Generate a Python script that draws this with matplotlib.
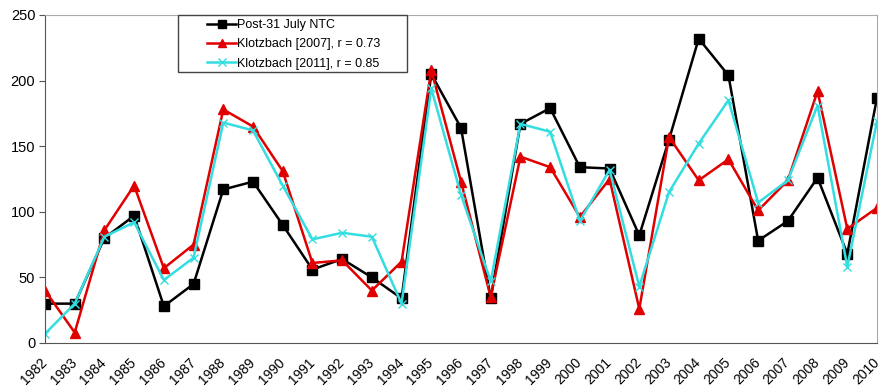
import matplotlib.pyplot as plt
from matplotlib.patches import Rectangle
from matplotlib.transforms import ScaledTranslation

## Data.
years = list(range(1982, 2011))
ntc = [30, 30, 80, 97, 28, 45, 117, 123, 90, 56, 64, 50, 34, 205, 164, 34, 167, 179, 134,
       133, 82, 155, 232, 204, 78, 93, 126, 68, 187]
k2007 = [40, 8, 86, 120, 57, 75, 178, 165, 131, 61, 63, 40, 62, 208, 123, 35, 142, 134, 96,
         125, 26, 157, 124, 140, 101, 124, 192, 87, 103]
k2011 = [7, 30, 81, 92, 48, 65, 168, 162, 120, 79, 84, 81, 30, 194, 113, 47, 167, 161, 93,
         132, 43, 115, 152, 185, 107, 124, 181, 58, 169]

plt.rcParams['font.family'] = ['Liberation Sans', 'DejaVu Sans']

W, H = 883, 388
fig = plt.figure(figsize=(W / 100, H / 100), dpi=100)
ax = fig.add_axes([45 / W, 1 - 343 / H, 832 / W, 328 / H])

x = list(range(len(years)))

## Plot the three series (cyan last so it sits on top).
ax.plot(x, ntc, color='black', marker='s', markersize=7, linewidth=1.8,
        label='Post-31 July NTC')
ax.plot(x, k2007, color='#e00000', marker='^', markersize=7.5, linewidth=1.8,
        label='Klotzbach [2007], r = 0.73')
ax.plot(x, k2011, color='#33dde0', marker='x', markersize=6, markeredgewidth=1,
        linewidth=1.8, label='Klotzbach [2011], r = 0.85')

## Axes limits and ticks.
ax.set_xlim(0, len(years) - 1)
ax.set_ylim(0, 250)
ax.set_yticks([0, 50, 100, 150, 200, 250])
ax.tick_params(axis='y', labelsize=10.5, length=4, color='#555555', pad=3)

ax.set_xticks(x)
ax.set_xticklabels([str(y) for y in years], rotation=45, ha='right',
                   rotation_mode='anchor', fontsize=10)
ax.tick_params(axis='x', which='major', length=0, pad=9)
ax.set_xticks(x[::2], minor=True)
ax.tick_params(axis='x', which='minor', length=5, color='#555555')

## Nudge the rotated year labels a little to the left.
shift = ScaledTranslation(-5 / 100, 0, fig.dpi_scale_trans)
for lab in ax.get_xticklabels():
    lab.set_transform(lab.get_transform() + shift)

## Spines like the spreadsheet style.
ax.spines['left'].set_color('#555555')
ax.spines['bottom'].set_color('#555555')
ax.spines['top'].set_color('#aaaaaa')
ax.spines['right'].set_color('#aaaaaa')

## Legend: entries without frame, box drawn separately.
leg = fig.legend(*ax.get_legend_handles_labels(), loc='upper left',
                 bbox_to_anchor=(207 / W, 1 - 19 / H), fontsize=9,
                 frameon=False, handlelength=2.35, handletextpad=0.05,
                 borderpad=0, labelspacing=0.58, borderaxespad=0)
for h in leg.legend_handles:
    h.set_markersize(5.5)
fig.add_artist(Rectangle((178 / W, 1 - 72 / H), (407 - 178) / W, (72 - 15) / H,
                         transform=fig.transFigure, facecolor='white',
                         edgecolor='#444444', linewidth=1.0, zorder=2))
leg.set_zorder(3)

fig.savefig('out.png', dpi=100)
